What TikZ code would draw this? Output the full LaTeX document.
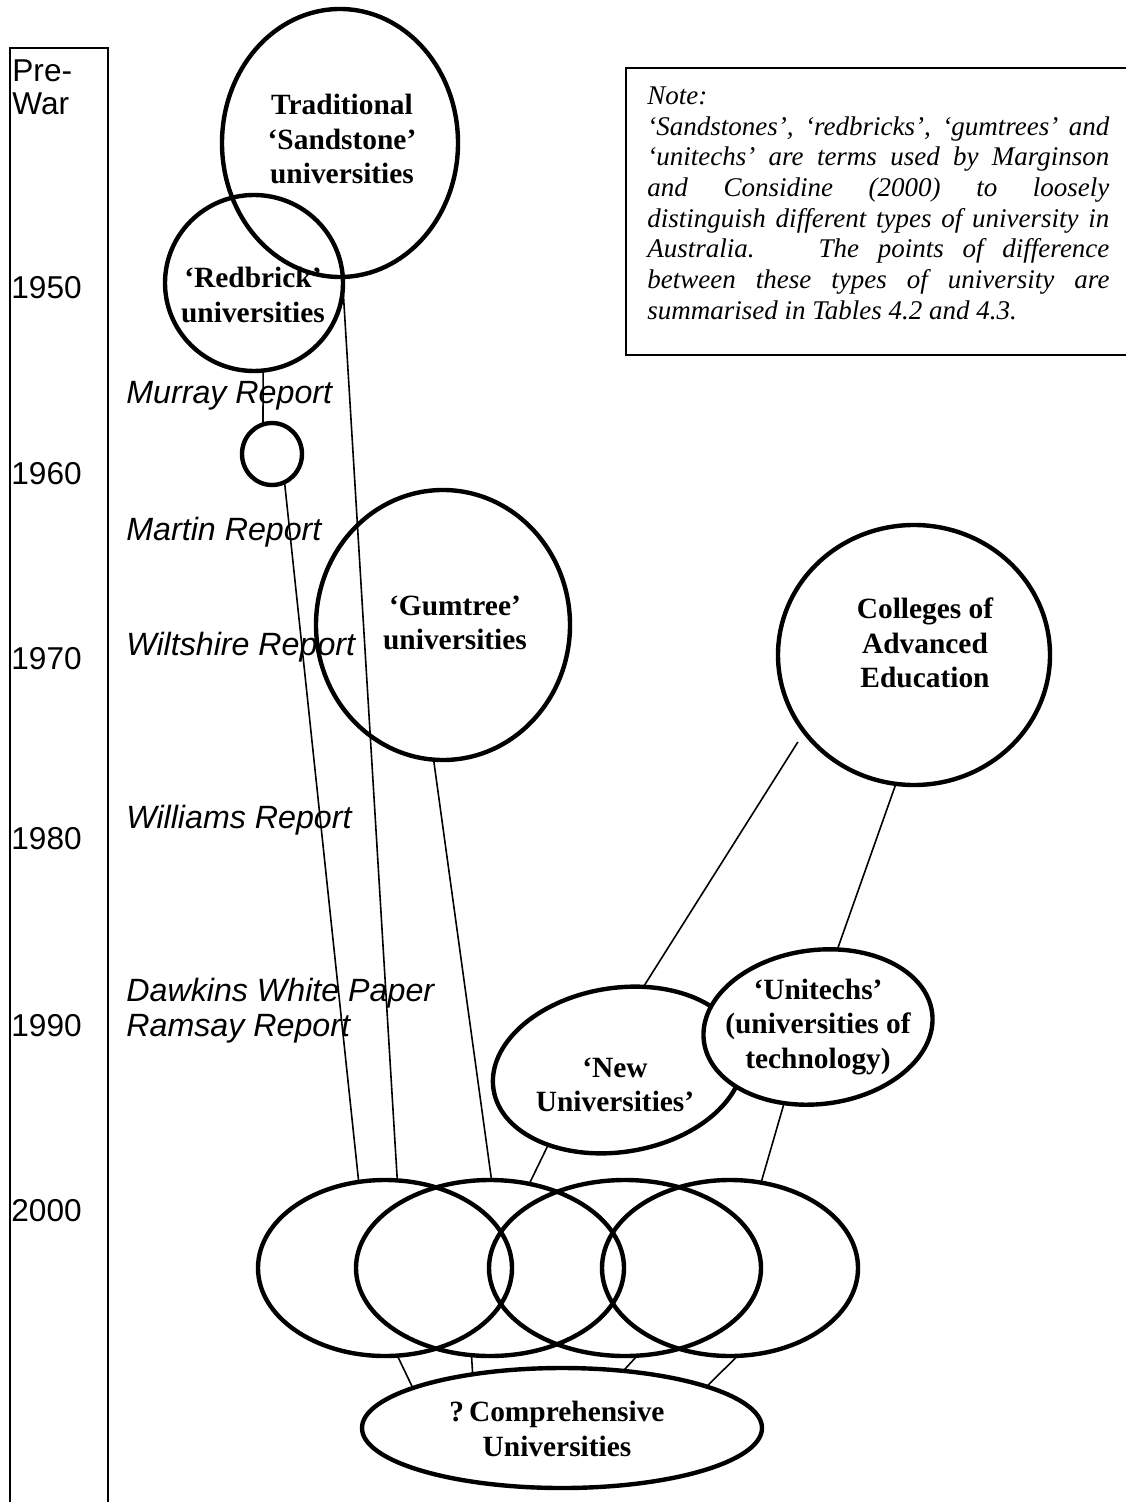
\documentclass[tikz,border=0pt]{standalone}
\usepackage{fontspec}
\setmainfont{Liberation Serif}
\newfontfamily\labelsans{Liberation Sans}
\usetikzlibrary{shapes.geometric}
\begin{document}
\begin{tikzpicture}[x=0.5pt,y=-0.5pt,
  blob/.style={draw, line width=2.2pt, ellipse, inner sep=0pt, outer sep=0pt},
  conn/.style={line width=0.8pt},
  lab/.style={font=\fontsize{14.7pt}{17.2pt}\selectfont\bfseries, align=center, inner sep=0pt},
  yr/.style={font=\labelsans\fontsize{15.8pt}{18pt}\selectfont, anchor=base west, inner sep=0pt},
  rep/.style={font=\labelsans\itshape\fontsize{16.1pt}{18pt}\selectfont, anchor=base west, inner sep=0pt},
  noteline/.style={anchor=base west, inner sep=0pt, font=\itshape\fontsize{13.5pt}{15.35pt}\selectfont},
]
\useasboundingbox (0,0) rectangle (1126,1502);

% timeline frame
\draw[line width=0.9pt] (10,1502) -- (10,48) -- (108,48) -- (108,1502);
\node[yr] (pre) at (12,82) {Pre-};
\node[yr] (war) at (12,115) {War};
\node[yr] (y50) at (11,299) {1950};
\node[yr] (y60) at (11,484) {1960};
\node[yr] (y70) at (11,669) {1970};
\node[yr] (y80) at (11,849) {1980};
\node[yr] (y90) at (11,1036) {1990};
\node[yr] (y00) at (11,1221) {2000};

\node[rep] (murray) at (126,404) {Murray Report};
\node[rep] (martin) at (126,540) {Martin Report};
\node[rep] (wilt) at (126,655) {Wiltshire Report};
\node[rep] (will) at (126,828) {Williams Report};
\node[rep] (dawk) at (126,1001) {Dawkins White Paper};
\node[rep] (rams) at (126,1036) {Ramsay Report};

% note box
\draw[line width=1pt] (1126,68) -- (626,68) -- (626,355) -- (1126,355);
\node[noteline] (n1) at (647,105) {Note:};
\node[noteline] (n2) at (647,136) {\makebox[231pt][s]{‘Sandstones’, ‘redbricks’, ‘gumtrees’ and}};
\node[noteline] (n3) at (647,166) {\makebox[231pt][s]{‘unitechs’ are terms used by Marginson}};
\node[noteline] (n4) at (647,197) {\makebox[231pt][s]{and Considine (2000) to loosely}};
\node[noteline] (n5) at (647,228) {\makebox[231pt][s]{distinguish different types of university in}};
\node[noteline] (n6) at (647,258) {\makebox[231pt][s]{Australia. \ The points of difference}};
\node[noteline] (n7) at (647,289) {\makebox[231pt][s]{between these types of university are}};
\node[noteline] (n8) at (647,320) {summarised in Tables 4.2 and 4.3.};

% shapes
\node[blob, minimum width=118pt, minimum height=134pt] (ss) at (340,143) {};
\node[blob, minimum width=89pt, minimum height=88pt] (rb) at (254,283) {};
\node[blob, minimum width=30pt, minimum height=31pt] (sc) at (272,454) {};
\node[blob, minimum width=127pt, minimum height=135pt] (gt) at (443,625) {};
\node[blob, minimum width=136pt, minimum height=130pt] (cae) at (914,655) {};
\node[blob, fill=white, minimum width=126pt, minimum height=82pt, rotate=9] (nw) at (618,1070) {};
\node[blob, fill=white, minimum width=115pt, minimum height=77pt, rotate=7] (ut) at (818,1027) {};
\node[blob, minimum width=127pt, minimum height=88pt] (e1) at (385,1268) {};
\node[blob, minimum width=134pt, minimum height=88pt] (e2) at (490,1268) {};
\node[blob, minimum width=136pt, minimum height=88pt] (e3) at (625,1268) {};
\node[blob, minimum width=128pt, minimum height=88pt] (e4) at (730,1268) {};
\node[blob, minimum width=200pt, minimum height=60pt] (cp) at (562,1428) {};

% labels
\node[lab] (tss) at (342,139) {Traditional\\‘Sandstone’\\universities};
\node[lab] (trb) at (253,295) {‘Redbrick’\\universities};
\node[lab] (tgt) at (455,623) {‘Gumtree’\\universities};
\node[lab] (tcae) at (925,643) {Colleges of\\Advanced\\Education};
\node[lab] (tnw) at (615,1085) {‘New\\Universities’};
\node[lab] (tut) at (818,1027) {‘Unitechs’\\(universities of\\technology)};
\node[lab] (tcp) at (557,1429) {?\,Comprehensive\\Universities};

% connectors
\draw[conn] (rb.-84) -- (sc.107);
\draw[conn] (sc.-66) -- (e1.107);
\draw[conn] (ss.-89) -- (e1.82);
\draw[conn] (gt.-94) -- (e2.89);
\draw[conn, shorten <=6pt] (cae.-145) -- (nw.64);
\draw[conn] (cae.-98) -- (ut.69);
\draw[conn] (nw.-142) -- (e2.65);
\draw[conn] (ut.-121) -- (e4.70);
\draw[conn] (e1.-82) -- (cp.165);
\draw[conn] (e2.-102) -- (cp.149);
\draw[conn] (e3.-82) -- (cp.43);
\draw[conn] (e4.-85) -- (cp.16);
\end{tikzpicture}
\end{document}
